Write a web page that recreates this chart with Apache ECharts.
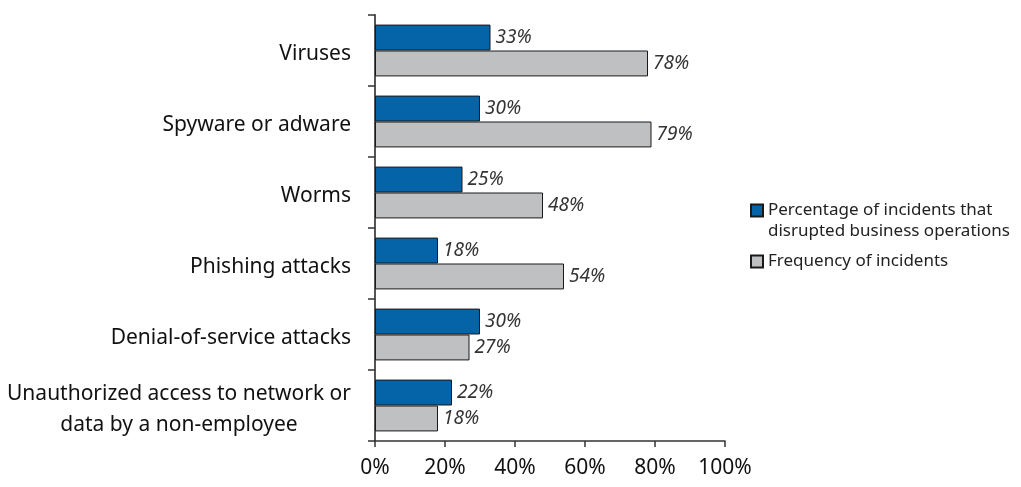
<!DOCTYPE html>
<html>
<head>
<meta charset="utf-8">
<script src="https://cdn.jsdelivr.net/npm/echarts@6/dist/echarts.min.js"></script>
<style>
  html, body { margin: 0; padding: 0; background: #fff; }
  #chart { width: 1021px; height: 487px; }
</style>
</head>
<body>
<div id="chart"></div>
<script>
// data
const categories = [
  'Viruses',
  'Spyware or adware',
  'Worms',
  'Phishing attacks',
  'Denial-of-service attacks',
  'Unauthorized access to network or\ndata by a non-employee',
];
const disrupted = [33, 30, 25, 18, 30, 22];
const frequency = [78, 79, 48, 54, 27, 18];
const xTicks = [0, 20, 40, 60, 80, 100];

const nameDisrupted = 'Percentage of incidents that disrupted business operations';
const nameFrequency = 'Frequency of incidents';

const fontFamily = '"Noto Sans", "Open Sans", sans-serif';

// 值标签（斜体）
const valueLabel = {
  show: true,
  position: 'right',
  distance: 5,
  formatter: '{c}%',
  fontFamily: fontFamily,
  fontStyle: 'italic',
  fontSize: 19,
  color: '#333',
};

const chart = echarts.init(document.getElementById('chart'));

const option = {
  animation: false,
  textStyle: { fontFamily: fontFamily },
  grid: {
    left: 375,
    right: 296,
    top: 15,
    bottom: 46,
    containLabel: false,
  },
  legend: [{
    data: [nameDisrupted],
    left: 750,
    top: 179,
    padding: 0,
    orient: 'vertical',
    itemWidth: 12,
    itemHeight: 12,
    icon: 'rect',
    // 空的第一行让图标对齐第一行文字
    formatter: () => ' \nPercentage of incidents that\ndisrupted business operations',
    textStyle: {
      fontSize: 17,
      lineHeight: 21,
      color: '#222',
    },
  }, {
    data: [nameFrequency],
    left: 750,
    top: 251,
    padding: 0,
    orient: 'vertical',
    itemWidth: 12,
    itemHeight: 12,
    icon: 'rect',
    textStyle: {
      fontSize: 17,
      lineHeight: 21,
      color: '#222',
    },
  }],
  xAxis: {
    type: 'value',
    min: 0,
    max: 100,
    interval: 20,
    axisLine: { show: true, lineStyle: { color: '#333', width: 1.5 } },
    axisTick: { show: true, length: 6, lineStyle: { color: '#333', width: 1.5 } },
    splitLine: { show: false },
    axisLabel: {
      margin: 17,
      fontSize: 21,
      color: '#111',
      formatter: (v) => (xTicks.includes(v) ? v + '%' : ''),
    },
  },
  yAxis: {
    type: 'category',
    inverse: true,
    data: categories,
    axisLine: { show: true, lineStyle: { color: '#555', width: 2 } },
    axisTick: { show: true, length: 7, lineStyle: { color: '#333', width: 1.5 } },
    axisLabel: {
      margin: 24,
      fontSize: 21,
      lineHeight: 31,
      color: '#111',
      padding: [8, 0, 0, 0],
      formatter: (v) => v.split('\n').map((s) => '{c|' + s + '}').join('\n'),
      rich: {
        c: { align: 'center', fontSize: 21, lineHeight: 31, color: '#111' },
      },
    },
  },
  series: [{
    name: nameDisrupted,
    type: 'bar',
    data: disrupted,
    barGap: '0%',
    barCategoryGap: '27%',
    itemStyle: { color: '#0563a8', borderColor: '#1a1a1a', borderWidth: 1 },
    label: valueLabel,
  }, {
    name: nameFrequency,
    type: 'bar',
    data: frequency,
    barGap: '0%',
    barCategoryGap: '27%',
    itemStyle: { color: '#bfc0c2', borderColor: '#1a1a1a', borderWidth: 1 },
    label: valueLabel,
  }],
};

chart.setOption(option);
window.addEventListener('resize', () => {
  chart.resize();
});
</script>
</body>
</html>
